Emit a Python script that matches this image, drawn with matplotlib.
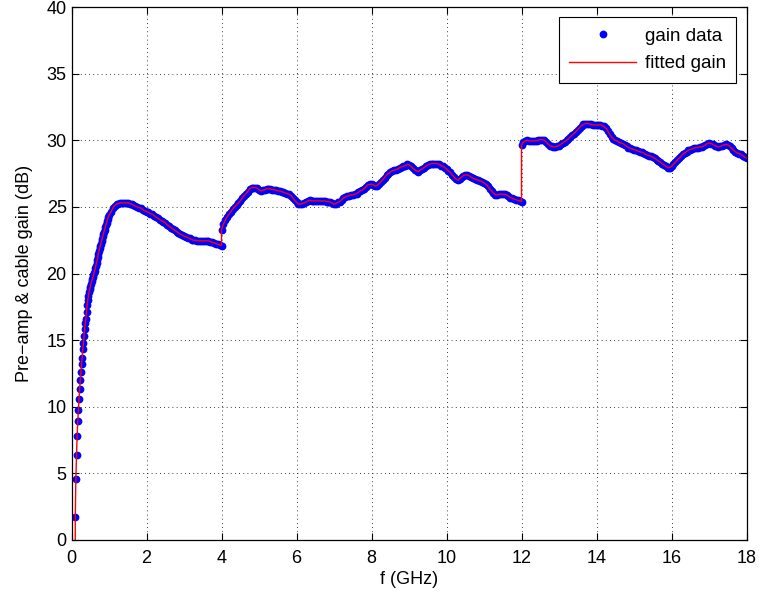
import numpy as np
import matplotlib.pyplot as plt

plt.rcParams['font.family'] = ['Liberation Sans', 'DejaVu Sans']

# frequency grids (GHz) for the three sweep bands
f_rise = 0.1 + np.arange(55) / 60.0
f_low = np.round(np.arange(1.05, 4.0001, 0.05), 2)
f_mid = np.round(np.arange(4.0, 12.0001, 0.05), 2)
f_high = np.round(np.arange(12.0, 18.0001, 0.05), 2)

g_rise = [1.7, 4.6, 6.4, 7.8, 8.9, 9.75, 10.6, 11.35, 12.0, 12.6,
          13.2, 13.65, 14.3, 14.75, 15.3, 15.8, 16.3, 16.6, 17.1, 17.6,
          18.0, 18.3, 18.6, 18.8, 19.0, 19.2, 19.4, 19.55, 19.7, 19.85,
          20.05, 20.2, 20.4, 20.6, 20.8, 21.0, 21.25, 21.5, 21.7, 21.9,
          22.1, 22.25, 22.45, 22.6, 22.8, 22.95, 23.15, 23.3, 23.5, 23.65,
          23.8, 23.95, 24.1, 24.25, 24.4]
g_low = [24.6, 24.9, 25.1, 25.2, 25.25, 25.3, 25.3, 25.3, 25.3, 25.3,
         25.25, 25.2, 25.15, 25.05, 25.0, 24.95, 24.9, 24.8, 24.7, 24.65,
         24.6, 24.5, 24.45, 24.35, 24.25, 24.15, 24.05, 23.95, 23.9, 23.8,
         23.65, 23.55, 23.45, 23.35, 23.25, 23.15, 23.05, 22.95, 22.9, 22.8,
         22.75, 22.7, 22.65, 22.55, 22.5, 22.5, 22.45, 22.45, 22.45, 22.45,
         22.45, 22.45, 22.45, 22.4, 22.35, 22.3, 22.25, 22.2, 22.15, 22.1]
g_mid = [23.3, 23.7, 24.0, 24.25, 24.45, 24.65, 24.85, 25.0, 25.15, 25.3,
         25.45, 25.65, 25.85, 26.0, 26.15, 26.35, 26.45, 26.45, 26.45, 26.4,
         26.3, 26.2, 26.25, 26.3, 26.35, 26.35, 26.35, 26.3, 26.3, 26.25,
         26.2, 26.2, 26.15, 26.1, 26.05, 26.0, 25.95, 25.85, 25.7, 25.5,
         25.35, 25.2, 25.2, 25.25, 25.3, 25.35, 25.45, 25.5, 25.45, 25.45,
         25.45, 25.45, 25.45, 25.45, 25.45, 25.45, 25.4, 25.4, 25.35, 25.3,
         25.2, 25.25, 25.35, 25.4, 25.5, 25.65, 25.75, 25.8, 25.85, 25.9,
         25.9, 25.95, 26.0, 26.1, 26.2, 26.25, 26.35, 26.5, 26.65, 26.7,
         26.7, 26.65, 26.55, 26.6, 26.75, 26.9, 27.05, 27.2, 27.4, 27.5,
         27.6, 27.7, 27.75, 27.8, 27.85, 27.95, 28.0, 28.05, 28.1, 28.2,
         28.15, 28.05, 27.9, 27.8, 27.7, 27.65, 27.75, 27.85, 27.95, 28.05,
         28.15, 28.2, 28.25, 28.25, 28.25, 28.25, 28.2, 28.1, 28.05, 27.95,
         27.85, 27.7, 27.6, 27.4, 27.25, 27.1, 27.0, 27.1, 27.25, 27.35,
         27.4, 27.4, 27.35, 27.25, 27.15, 27.1, 27.05, 27.0, 26.95, 26.9,
         26.8, 26.7, 26.55, 26.35, 26.2, 26.05, 25.9, 25.9, 25.95, 25.95,
         25.95, 25.95, 25.9, 25.8, 25.7, 25.65, 25.6, 25.55, 25.5, 25.45,
         25.4]
g_high = [29.65, 29.85, 29.95, 30.0, 29.95, 29.95, 29.95, 29.95, 29.95, 30.0,
          30.05, 30.05, 30.0, 29.9, 29.75, 29.6, 29.55, 29.5, 29.5, 29.55,
          29.6, 29.7, 29.8, 29.9, 30.0, 30.1, 30.25, 30.4, 30.5, 30.65,
          30.8, 30.95, 31.1, 31.2, 31.25, 31.25, 31.25, 31.2, 31.15, 31.15,
          31.15, 31.15, 31.15, 31.1, 31.05, 30.9, 30.7, 30.45, 30.25, 30.1,
          30.0, 29.95, 29.85, 29.8, 29.75, 29.65, 29.55, 29.45, 29.4, 29.35,
          29.3, 29.25, 29.2, 29.15, 29.1, 29.05, 28.95, 28.9, 28.85, 28.8,
          28.75, 28.65, 28.55, 28.45, 28.35, 28.25, 28.15, 28.05, 27.95, 27.95,
          28.05, 28.2, 28.35, 28.5, 28.65, 28.8, 28.95, 29.05, 29.15, 29.25,
          29.3, 29.35, 29.4, 29.45, 29.45, 29.5, 29.5, 29.55, 29.65, 29.75,
          29.8, 29.75, 29.7, 29.6, 29.55, 29.5, 29.55, 29.6, 29.65, 29.7,
          29.65, 29.55, 29.4, 29.25, 29.15, 29.05, 29.0, 28.95, 28.85, 28.75,
          28.65]

freq = np.concatenate([f_rise, f_low, f_mid, f_high])
gain = np.concatenate([g_rise, g_low, g_mid, g_high])

# fitted curve starts from 0 dB at the lowest frequency
fit_f = np.concatenate([[0.1], freq])
fit_g = np.concatenate([[0.0], gain])

fig = plt.figure(figsize=(7.59, 6.01), dpi=100)
ax = fig.add_axes([71.5 / 759, 61 / 601, 675 / 759, 533 / 601])

ax.plot(freq, gain, 'o', color='#0000ff', markersize=5.6, markeredgewidth=0,
        label='gain data')
ax.plot(fit_f, fit_g, '-', color='#ff0000', linewidth=1.0, label='fitted gain')

ax.set_xlim(0, 18)
ax.set_ylim(0, 40)
ax.set_xticks(np.arange(0, 19, 2))
ax.set_yticks(np.arange(0, 41, 5))
ax.grid(True, color='black', linestyle=(0, (1, 4)), linewidth=0.6)
ax.tick_params(direction='in', top=True, right=True, length=5, width=0.8,
               labelsize=13)
ax.tick_params(axis='x', pad=7)
for s in ax.spines.values():
    s.set_linewidth(0.9)

ax.set_xlabel('f (GHz)', fontsize=13, labelpad=3)
ax.set_ylabel('Pre\u2212amp & cable gain (dB)', fontsize=13, labelpad=10)

leg = ax.legend(loc='upper right', numpoints=1, fancybox=False,
                edgecolor='black', framealpha=1, fontsize=13.5,
                borderaxespad=0.55, handlelength=3.6, handletextpad=0.45,
                borderpad=0.55, labelspacing=0.55)
leg.get_frame().set_linewidth(0.8)

fig.savefig('out.png', dpi=100)
